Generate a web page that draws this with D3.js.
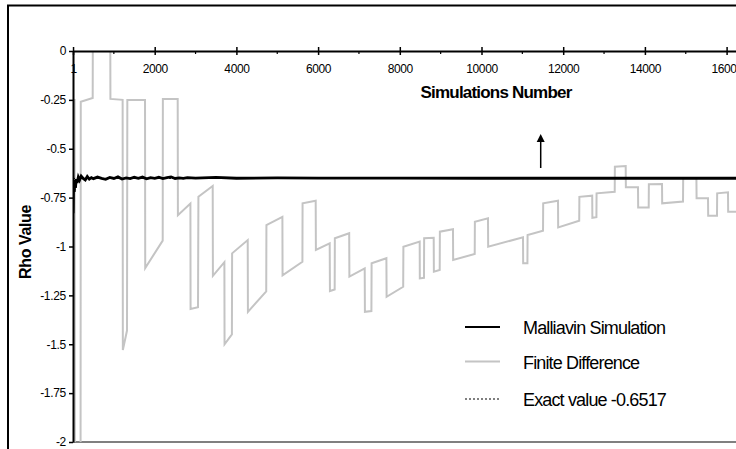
<!DOCTYPE html>
<html>
<head>
<meta charset="utf-8">
<script src="https://cdn.jsdelivr.net/npm/d3@7"></script>
<style>
  body { margin: 0; background: #fff; }
  text { font-family: "Liberation Sans", Arial, sans-serif; fill: #000; }
</style>
</head>
<body>
<svg width="736" height="449"></svg>
<script>
// tick values
var xTicks = [1, 2000, 4000, 6000, 8000, 10000, 12000, 14000, 16000, 18000];
var xMinor = [1000, 3000, 5000, 7000, 9000, 11000, 13000, 15000, 17000];
var yTicks = [0, -0.25, -0.5, -0.75, -1, -1.25, -1.5, -1.75, -2];

var exactValue = -0.6517;

// Malliavin simulation (black)
var mallSims = [1, 15, 30, 45, 60, 80, 100, 130, 160, 200,
  250, 300, 350, 400, 450, 500,
  600, 700, 800, 900, 1000, 1100, 1200, 1300, 1400, 1500, 1600, 1700, 1800, 1900,
  2000, 2100, 2200, 2300, 2400, 2500, 2600, 2700, 2800,
  3000, 3500, 4000, 5000, 6000, 8000, 10000, 12000, 14000, 16000, 18000];
var mallValues = [-0.83, -0.66, -0.72, -0.69, -0.70, -0.655, -0.675, -0.645, -0.66, -0.64,
  -0.652, -0.66, -0.642, -0.655, -0.648, -0.653,
  -0.645, -0.651, -0.656, -0.647, -0.652, -0.644, -0.655, -0.649, -0.653, -0.646, -0.651, -0.645, -0.654, -0.648,
  -0.651, -0.646, -0.653, -0.648, -0.644, -0.652, -0.649, -0.651, -0.648,
  -0.650, -0.646, -0.651, -0.649, -0.650, -0.650, -0.651, -0.651, -0.651, -0.651, -0.651];

// Finite difference (grey)
var fdSims = [1, 40, 45, 185, 190, 482, 488, 910, 916, 1215,
  1220, 1322, 1330, 1763, 1768, 2196, 2200, 2563, 2568, 2874,
  2878, 3060, 3070, 3420, 3425, 3706, 3710, 3890, 3895, 4277,
  4282, 4730, 4735, 5126, 5130, 5616, 5620, 5941, 5946, 6284,
  6290, 6406, 6410, 6761, 6766, 7141, 7146, 7305, 7310, 7672,
  7677, 8083, 8088, 8487, 8490, 8592, 8596, 8830, 8834, 8977,
  8981, 9302, 9306, 9834, 9838, 10159, 10163, 11016, 11020, 11124,
  11128, 11506, 11510, 11873, 11877, 12392, 12396, 12710, 12714, 12813,
  12817, 13261, 13265, 13530, 13534, 13831, 13835, 14093, 14097, 14419,
  14423, 14933, 14937, 15261, 15265, 15545, 15549, 15765, 15769, 16034,
  16038, 16600];
var fdValues = [-0.25, -0.25, -2.2, -2.2, -0.26, -0.24, 0.3, 0.3, -0.245, -0.25,
  -1.53, -1.43, -0.25, -0.25, -1.11, -0.97, -0.245, -0.245, -0.84, -0.78,
  -1.32, -1.31, -0.745, -0.69, -1.15, -1.08, -1.5, -1.45, -1.035, -0.967,
  -1.334, -1.23, -0.89, -0.848, -1.148, -1.078, -0.779, -0.766, -1.018, -0.984,
  -1.228, -1.22, -0.958, -0.932, -1.154, -1.112, -1.334, -1.33, -1.086, -1.06,
  -1.257, -1.206, -1.001, -0.975, -1.163, -1.16, -0.958, -0.955, -1.129, -1.12,
  -0.924, -0.912, -1.069, -1.038, -0.873, -0.856, -1.001, -0.953, -1.086, -1.086,
  -0.941, -0.919, -0.779, -0.766, -0.902, -0.868, -0.746, -0.74, -0.853, -0.85,
  -0.728, -0.72, -0.592, -0.588, -0.697, -0.697, -0.801, -0.8, -0.682, -0.68,
  -0.779, -0.77, -0.651, -0.651, -0.753, -0.753, -0.843, -0.843, -0.728, -0.723,
  -0.822, -0.822];

var legendNames = ["Malliavin Simulation", "Finite Difference", "Exact value -0.6517"];

var svg = d3.select("svg");

var plotLeft = 73, plotTop = 51, plotBottom = 442, plotWidth = 817;

var x = d3.scaleLinear()
    .domain([0, 20000])
    .range([plotLeft, plotLeft + plotWidth]);

var y = d3.scaleLinear()
    .domain([0, -2])
    .range([plotTop, plotBottom]);

// outer chart border
svg.append("rect")
    .attr("x", 8)
    .attr("y", 5.5)
    .attr("width", 900)
    .attr("height", 600)
    .attr("fill", "none")
    .attr("stroke", "#000")
    .attr("stroke-width", 2);

svg.append("defs").append("clipPath")
    .attr("id", "plot")
  .append("rect")
    .attr("x", plotLeft)
    .attr("y", plotTop)
    .attr("width", plotWidth)
    .attr("height", plotBottom - plotTop);

// plot area bottom border
svg.append("line")
    .attr("x1", plotLeft).attr("x2", plotLeft + plotWidth)
    .attr("y1", plotBottom).attr("y2", plotBottom)
    .attr("stroke", "#808080")
    .attr("stroke-width", 2);

var lines = svg.append("g").attr("clip-path", "url(#plot)");

var fdData = fdSims.map(function(s, i) { return [s, fdValues[i]]; });
var mallData = mallSims.map(function(s, i) { return [s, mallValues[i]]; });

var line = d3.line()
    .x(function(d) { return x(d[0]); })
    .y(function(d) { return y(d[1]); });

lines.append("path")
    .datum(fdData)
    .attr("d", line)
    .attr("fill", "none")
    .attr("stroke", "#c4c4c4")
    .attr("stroke-width", 2);

lines.append("line")
    .attr("x1", x(1)).attr("x2", x(20000))
    .attr("y1", y(exactValue)).attr("y2", y(exactValue))
    .attr("stroke", "#000")
    .attr("stroke-width", 1)
    .attr("stroke-dasharray", "2,2");

lines.append("path")
    .datum(mallData)
    .attr("d", line)
    .attr("fill", "none")
    .attr("stroke", "#000")
    .attr("stroke-width", 2.8);

// x axis (at the top, value 0)
var xAxis = svg.append("g")
    .attr("transform", "translate(0," + plotTop + ")")
    .call(d3.axisBottom(x)
        .tickValues(xTicks)
        .tickFormat(d3.format("d"))
        .tickSizeInner(4)
        .tickSizeOuter(0)
        .tickPadding(9));
xAxis.select(".domain").attr("stroke-width", 2);
xAxis.selectAll(".tick line").attr("y1", -4).attr("stroke-width", 1.5);
xAxis.selectAll(".tick text")
    .style("font-size", "12px")
    .style("letter-spacing", "-0.4px")
    .style("font-family", "'Liberation Sans', Arial, sans-serif");

svg.append("g").selectAll("line")
    .data(xMinor)
    .enter().append("line")
    .attr("x1", function(d) { return x(d); })
    .attr("x2", function(d) { return x(d); })
    .attr("y1", plotTop)
    .attr("y2", plotTop + 3)
    .attr("stroke", "#000")
    .attr("stroke-width", 1.2);

// y axis
var yAxis = svg.append("g")
    .attr("transform", "translate(" + plotLeft + ",0)")
    .call(d3.axisLeft(y)
        .tickValues(yTicks)
        .tickFormat(function(d) { return d === 0 ? "0" : String(d); })
        .tickSizeInner(4)
        .tickSizeOuter(0)
        .tickPadding(3));
yAxis.select(".domain").attr("stroke-width", 2);
yAxis.selectAll(".tick line").attr("stroke-width", 1.5);
yAxis.selectAll(".tick text")
    .style("font-size", "12px")
    .style("letter-spacing", "-0.3px")
    .style("font-family", "'Liberation Sans', Arial, sans-serif");

// axis titles
svg.append("text")
    .attr("x", 496)
    .attr("y", 98)
    .attr("text-anchor", "middle")
    .style("font-size", "17px")
    .style("font-weight", "bold")
    .style("letter-spacing", "-0.8px")
    .text("Simulations Number");

svg.append("text")
    .attr("transform", "translate(31,242) rotate(-90)")
    .attr("text-anchor", "middle")
    .style("font-size", "16px")
    .style("font-weight", "bold")
    .style("letter-spacing", "-0.4px")
    .text("Rho Value");

// arrow pointing at the exact value line
svg.append("line")
    .attr("x1", 540.7).attr("x2", 540.7)
    .attr("y1", 168).attr("y2", 140)
    .attr("stroke", "#000")
    .attr("stroke-width", 1.5);
svg.append("path")
    .attr("d", "M536.7,142L540.7,134L544.7,142Z")
    .attr("fill", "#000");

// legend
var legend = svg.append("g")
    .selectAll("g")
    .data(legendNames)
    .enter().append("g")
    .attr("transform", function(d, i) { return "translate(0," + [327, 361.5, 399][i] + ")"; });

legend.append("line")
    .attr("x1", 465).attr("x2", 500)
    .attr("y1", 0).attr("y2", 0)
    .attr("stroke", function(d, i) { return i === 1 ? "#c4c4c4" : "#000"; })
    .attr("stroke-width", function(d, i) { return i === 2 ? 1.2 : 2; })
    .attr("stroke-dasharray", function(d, i) { return i === 2 ? "2,2" : null; });

legend.append("text")
    .attr("x", 523)
    .attr("y", 7)
    .style("font-size", "18px")
    .style("letter-spacing", "-0.85px")
    .text(function(d) { return d; });
</script>
</body>
</html>
